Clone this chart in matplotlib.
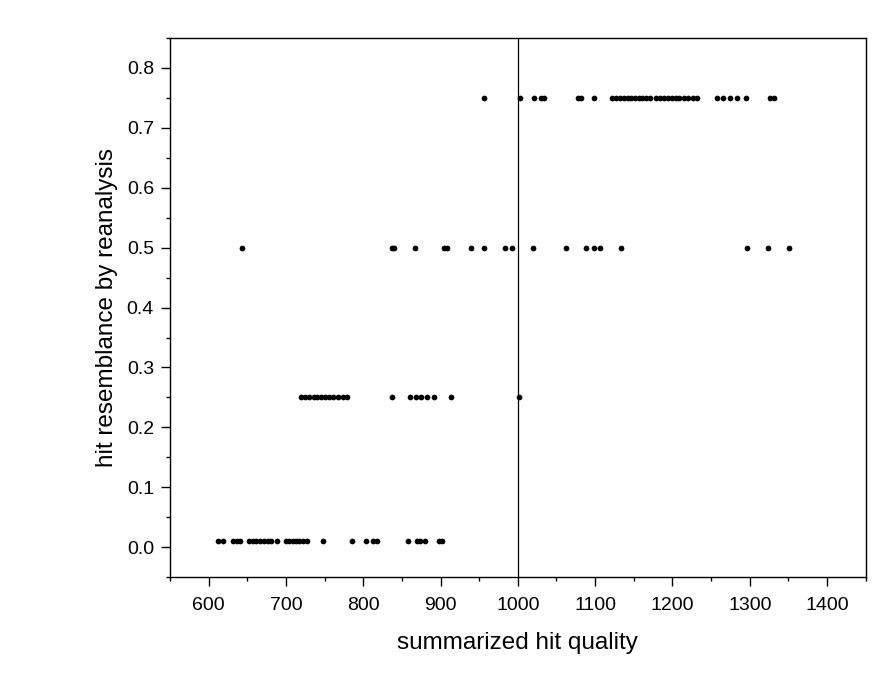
import matplotlib.pyplot as plt
from matplotlib.ticker import MultipleLocator
import numpy as np

plt.rcParams['font.family'] = ['Liberation Sans', 'DejaVu Sans']

# hit resemblance levels and the summarized hit quality of each hit
q_075 = [956, 1003, 1021, 1030, 1034, 1078, 1082, 1098,
         1122, 1127, 1132, 1137, 1142, 1147, 1152, 1157, 1161, 1166, 1171,
         1179, 1184, 1189, 1194, 1199, 1204, 1209, 1215, 1220, 1226, 1232,
         1258, 1266, 1275, 1283, 1295, 1326, 1332]
q_050 = [643, 837, 840, 867, 904, 909, 940, 956, 984, 992, 1020,
         1062, 1088, 1099, 1106, 1133, 1297, 1324, 1351]
q_025 = [720, 725, 730, 736, 740, 745, 751, 756, 761, 768, 774, 779,
         837, 861, 868, 875, 882, 892, 914, 1001]
q_001 = [612, 618, 631, 637, 640, 652, 657, 661, 666, 671, 677, 681, 689,
         700, 704, 709, 713, 717, 722, 727, 748, 786, 804, 813, 818,
         858, 870, 874, 880, 898, 902]

levels = [0.75, 0.5, 0.25, 0.01]
groups = [q_075, q_050, q_025, q_001]

fig = plt.figure(figsize=(8.88, 6.79), dpi=100)
ax = fig.add_axes([0.1914, 0.150, 0.7835, 0.794])

for lvl, xs in zip(levels, groups):
    ax.scatter(xs, np.full(len(xs), lvl), s=17, color='black', linewidths=0, zorder=3)

ax.axvline(1000, color='black', linewidth=0.9)

ax.set_xlim(550, 1450)
ax.set_ylim(-0.05, 0.85)
ax.xaxis.set_minor_locator(MultipleLocator(50))
ax.yaxis.set_minor_locator(MultipleLocator(0.05))
ax.set_xticks(np.arange(600, 1401, 100))
ax.set_yticks(np.arange(0, 0.81, 0.1))
ax.set_yticklabels([f'{v:.1f}' for v in np.arange(0, 0.81, 0.1)])

ax.tick_params(which='major', direction='out', length=6.5, width=1, labelsize=14)
ax.tick_params(axis='x', which='major', pad=8)
ax.tick_params(axis='y', which='major', pad=5)
ax.tick_params(which='minor', direction='out', length=3, width=1)
for sp in ax.spines.values():
    sp.set_linewidth(1)

ax.set_xlabel('summarized hit quality', fontsize=17.5, labelpad=13)
ax.set_ylabel('hit resemblance by reanalysis', fontsize=17.5, labelpad=6)

fig.savefig('out.png', dpi=100)
